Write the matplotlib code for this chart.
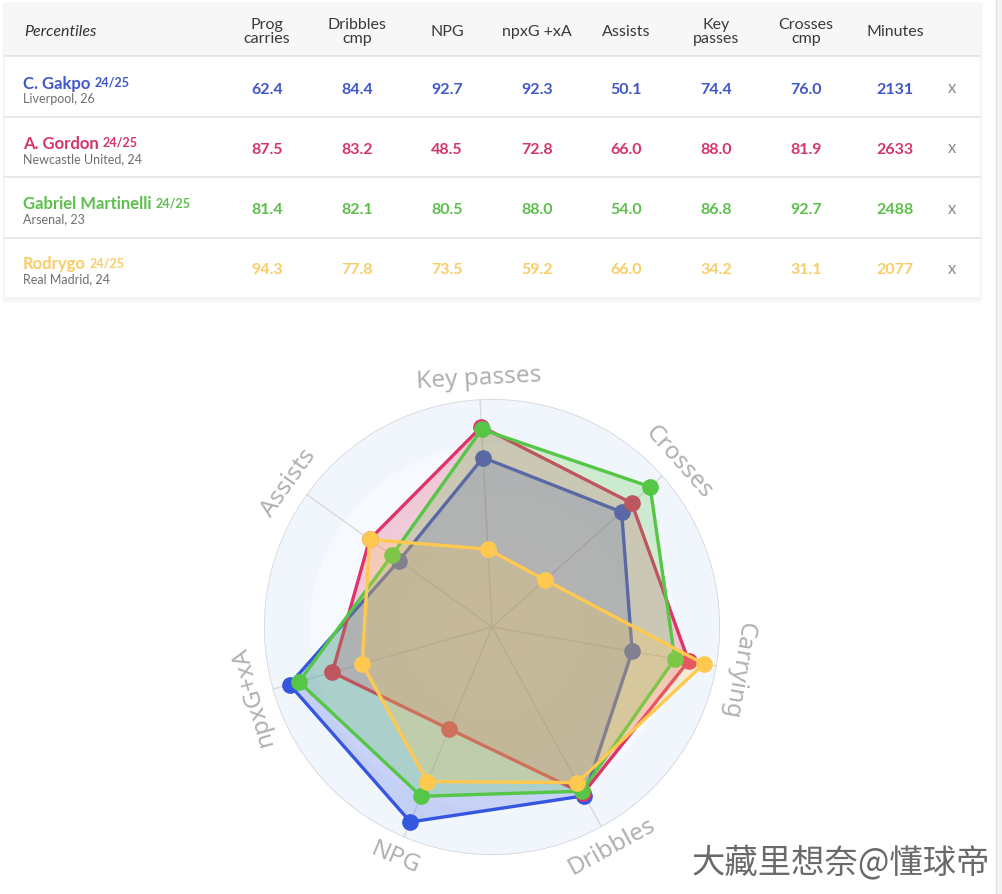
import matplotlib
matplotlib.use("Agg")
import matplotlib.pyplot as plt
from matplotlib.patches import Rectangle, FancyBboxPatch
import numpy as np

plt.rcParams['font.family'] = ['Lato', 'DejaVu Sans']

# ---- data ----
players = ["C. Gakpo", "A. Gordon", "Gabriel Martinelli", "Rodrygo"]
seasons = ["24/25", "24/25", "24/25", "24/25"]
clubs = ["Liverpool, 26", "Newcastle United, 24", "Arsenal, 23", "Real Madrid, 24"]

table_cols = ["Prog\ncarries", "Dribbles\ncmp", "NPG", "npxG +xA", "Assists",
              "Key\npasses", "Crosses\ncmp", "Minutes"]
prog_carries = [62.4, 87.5, 81.4, 94.3]
dribbles_cmp = [84.4, 83.2, 82.1, 77.8]
npg = [92.7, 48.5, 80.5, 73.5]
npxg_xa = [92.3, 72.8, 88.0, 59.2]
assists = [50.1, 66.0, 54.0, 66.0]
key_passes = [74.4, 88.0, 86.8, 34.2]
crosses_cmp = [76.0, 81.9, 92.7, 31.1]
minutes = [2131, 2633, 2488, 2077]

radar_labels = ["Key passes", "Crosses", "Carrying", "Dribbles", "NPG", "npxG+xA", "Assists"]
radar_series = [key_passes, crosses_cmp, prog_carries, dribbles_cmp, npg, npxg_xa, assists]

text_colors = ["#3f57c9", "#d6336c", "#5dbf4b", "#f8cd66"]
line_colors = ["#3456e0", "#df3468", "#55c646", "#ffc94f"]

W, H = 1002, 895
fig = plt.figure(figsize=(W / 100, H / 100), dpi=100)
fig.patch.set_facecolor("white")

bg = fig.add_axes([0, 0, 1, 1])
bg.set_xlim(0, W)
bg.set_ylim(H, 0)
bg.axis("off")

# page edge on the right
bg.add_patch(Rectangle((996, 0), 6, H, color="#f3f3f3", lw=0))
bg.plot([996, 996], [0, H], color="#e2e2e2", lw=1)

# table card with soft shadow
for i, a in enumerate([0.02, 0.015, 0.01]):
    bg.add_patch(FancyBboxPatch((5 - i - 1, 3), 975 + 2 * i + 2, 296 + 2 * i + 2,
                                boxstyle="round,pad=0,rounding_size=4",
                                fc="black", ec="none", alpha=a))
bg.add_patch(Rectangle((5, 3), 975, 295, fc="white", ec="none"))
bg.add_patch(Rectangle((5, 3), 975, 54, fc="#f7f7f7", ec="none"))
for yy in [57, 117.5, 178, 238.5]:
    bg.plot([5, 980], [yy, yy], color="#e3e3e3", lw=1.2)

bg.text(24, 32, "Percentiles", fontsize=11.5, style="italic", color="#333333",
        ha="left", va="center")
col_x = [267, 357, 447, 537, 626, 716, 806, 895]
for x, lab in zip(col_x, table_cols):
    bg.text(x, 32, lab, fontsize=11.5, color="#3a3a3a", ha="center", va="center",
            linespacing=1.0)

table_vals = [prog_carries, dribbles_cmp, npg, npxg_xa, assists, key_passes, crosses_cmp]
row_y = [89.5, 149.5, 210, 270]
for r in range(4):
    y = row_y[r]
    c = text_colors[r]
    nm = bg.text(23, y - 6, players[r], fontsize=12, fontweight="bold", color=c,
                 ha="left", va="center")
    bg.annotate(seasons[r], xy=(1, 0.18), xycoords=nm, xytext=(3, 0),
                textcoords="offset points", fontsize=9, fontweight="bold",
                color=c, ha="left", va="bottom")
    bg.text(23, y + 9.5, clubs[r], fontsize=9, color="#6e6e6e", ha="left", va="center")
    for k, vals in enumerate(table_vals):
        bg.text(col_x[k], y, f"{vals[r]:.1f}", fontsize=11.5, fontweight="bold",
                color=c, ha="center", va="center")
    bg.text(col_x[7], y, f"{minutes[r]}", fontsize=11.5, fontweight="bold",
            color=c, ha="center", va="center")
    bg.text(952, y - 1.5, "x", fontsize=12, color="#8a8a8a", ha="center", va="center")

# watermark
bg.text(990, 863, "大藏里想奈@懂球帝", fontsize=24, color="#6a6a6a", ha="right",
        va="center", family=["Noto Sans CJK SC", "DejaVu Sans"])

# ---- radar ----
cx, cy, R = 492, 628, 228
ax = fig.add_axes([(cx - R) / W, 1 - (cy + R) / H, 2 * R / W, 2 * R / H],
                  projection="polar")
ax.set_theta_zero_location("N", offset=3)
ax.set_theta_direction(-1)
ax.set_ylim(0, 100)
ax.grid(False)
ax.set_xticks([])
ax.set_yticks([])
ax.spines["polar"].set_visible(False)
ax.set_facecolor("none")

n = len(radar_labels)
theta = np.arange(n) * 2 * np.pi / n
tt = np.linspace(0, 2 * np.pi, 300)

band_colors = ["#ffffff", "#fcfdff", "#f9fbfe", "#f6f9fd", "#f1f6fc"]
for i, bc in enumerate(band_colors):
    ax.fill_between(tt, i * 20, (i + 1) * 20, color=bc, lw=0, zorder=0)
ax.plot(tt, np.full_like(tt, 100), color="#d2d5da", lw=1.1, zorder=1)
for t in theta:
    ax.plot([t, t], [0, 100], color="#d9d9d9", lw=1, zorder=1)

# each player drawn in turn: area, line, points (later areas veil earlier marks)
for p in range(4):
    vals = [s[p] for s in radar_series]
    tc = np.append(theta, theta[0])
    vc = np.append(vals, vals[0])
    z = 2 + 3 * p
    ax.fill(tc, vc, color=line_colors[p], alpha=0.24, lw=0, zorder=z)
    ax.plot(tc, vc, color=line_colors[p], lw=2.4, zorder=z + 1)
    ax.plot(theta, vals, "o", color=line_colors[p], ms=11, zorder=z + 2)

# axis names, written along the circle
for t, lab in zip(theta, radar_labels):
    deg = np.degrees(t) - 3
    rot = -deg
    if 120 < deg < 250:
        rot = 180 - deg
    ax.text(t, 109.5, lab, fontsize=17.5, color="#b0b0b0", rotation=rot,
            rotation_mode="anchor", ha="center", va="center",
            family=["Noto Sans", "DejaVu Sans"])

fig.savefig("out.png", dpi=100)
